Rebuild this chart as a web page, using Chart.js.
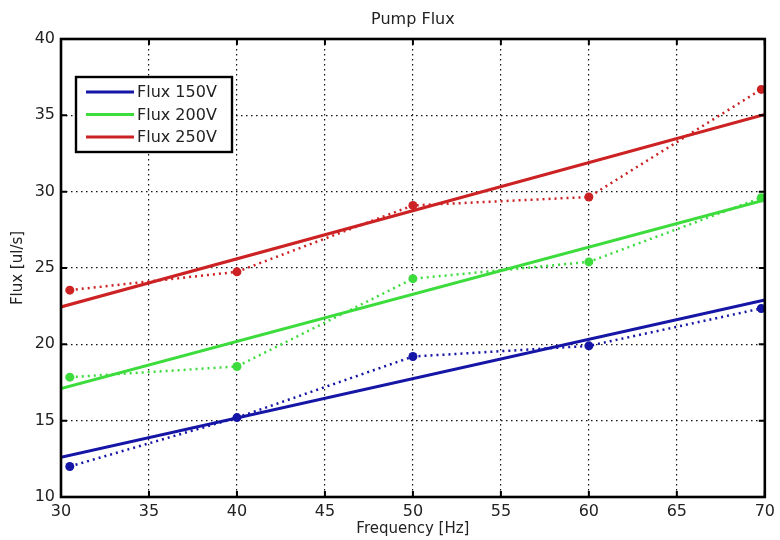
<!DOCTYPE html>
<html><head><meta charset="utf-8">
<script src="https://cdn.jsdelivr.net/npm/chart.js@4"></script>
<style>html,body{margin:0;padding:0;background:#fff;}</style>
</head><body>
<canvas id="c" width="780" height="540"></canvas>
<script>
// ---- data ----
const freqMeasured = [30.5, 40, 50, 60, 69.8];
const flux150 = [12.0, 15.2, 19.2, 19.9, 22.35];
const flux200 = [17.85, 18.55, 24.3, 25.4, 29.6];
const flux250 = [23.55, 24.75, 29.1, 29.65, 36.7];
const fitFreq = [30, 70];
const fit150 = [12.6, 22.9];
const fit200 = [17.1, 29.45];
const fit250 = [22.45, 35.05];
const seriesLabels = ['Flux 150V', 'Flux 200V', 'Flux 250V'];
const xTicks = [30, 35, 40, 45, 50, 55, 60, 65, 70];
const yTicks = [10, 15, 20, 25, 30, 35, 40];

const FONT = "'DejaVu Sans', sans-serif";
const COLORS = ['#1515a6', '#3ddc3d', '#cc2224'];

function pts(xs, ys) { return xs.map((x, i) => ({ x: x, y: ys[i] })); }

const measured = [flux150, flux200, flux250];
const fits = [fit150, fit200, fit250];
const datasets = [];
for (let k = 0; k < 3; k++) {
  datasets.push({
    label: seriesLabels[k],
    inLegend: true,
    data: pts(fitFreq, fits[k]),
    borderColor: COLORS[k],
    backgroundColor: COLORS[k],
    borderWidth: 3,
    pointRadius: 0,
    fill: false,
    tension: 0
  });
}
for (let k = 0; k < 3; k++) {
  datasets.push({
    label: seriesLabels[k] + ' measured',
    inLegend: false,
    data: pts(freqMeasured, measured[k]),
    borderColor: COLORS[k],
    backgroundColor: COLORS[k],
    borderWidth: 2.5,
    borderDash: [2, 4],
    pointRadius: 4.5,
    pointBorderWidth: 0,
    pointBackgroundColor: COLORS[k],
    fill: false,
    tension: 0
  });
}

const framePlugin = {
  id: 'frame',
  afterDatasetsDraw(chart) {
    const { ctx, chartArea: a, scales } = chart;
    ctx.save();
    ctx.strokeStyle = '#000';
    ctx.lineWidth = 2;
    ctx.beginPath();
    xTicks.forEach(v => {
      const px = scales.x.getPixelForValue(v);
      ctx.moveTo(px, a.bottom); ctx.lineTo(px, a.bottom - 6);
      ctx.moveTo(px, a.top); ctx.lineTo(px, a.top + 6);
    });
    yTicks.forEach(v => {
      const py = scales.y.getPixelForValue(v);
      ctx.moveTo(a.left, py); ctx.lineTo(a.left + 6, py);
      ctx.moveTo(a.right, py); ctx.lineTo(a.right - 6, py);
    });
    ctx.stroke();
    ctx.lineWidth = 2.6;
    ctx.strokeRect(a.left, a.top, a.right - a.left, a.bottom - a.top);
    ctx.restore();
  },
  afterDraw(chart) {
    const { ctx } = chart;
    const items = chart.data.datasets.filter(d => d.inLegend);
    const bx = 76, by = 77, bw = 156, bh = 75;
    ctx.save();
    ctx.fillStyle = '#fff';
    ctx.fillRect(bx, by, bw, bh);
    ctx.strokeStyle = '#000';
    ctx.lineWidth = 2.4;
    ctx.strokeRect(bx, by, bw, bh);
    ctx.font = '16px ' + FONT;
    ctx.textBaseline = 'middle';
    ctx.textAlign = 'left';
    items.forEach((d, i) => {
      const y = by + 15 + i * 22.5;
      ctx.strokeStyle = d.borderColor;
      ctx.lineWidth = 3;
      ctx.beginPath(); ctx.moveTo(86, y); ctx.lineTo(134, y); ctx.stroke();
      ctx.fillStyle = '#222';
      ctx.fillText(d.label, 137, y + 1);
    });
    ctx.restore();
  }
};

new Chart(document.getElementById('c'), {
  type: 'line',
  data: { datasets: datasets },
  plugins: [framePlugin],
  options: {
    responsive: false,
    animation: false,
    devicePixelRatio: 1,
    layout: { padding: { left: 0, right: 11, top: 0, bottom: 0 } },
    plugins: {
      legend: { display: false },
      tooltip: { enabled: false },
      title: {
        display: true, text: 'Pump Flux', color: '#222', fullSize: false,
        font: { family: FONT, size: 16, weight: 'normal' },
        padding: { top: 10, bottom: 9.8 }
      }
    },
    scales: {
      x: {
        type: 'linear', min: 30, max: 70,
        afterFit(s) { s.height = 43; },
        afterBuildTicks(s) { s.ticks = xTicks.map(v => ({ value: v })); },
        ticks: { color: '#222', font: { family: FONT, size: 16 }, padding: 5, maxRotation: 0, autoSkip: false },
        grid: { color: '#111', lineWidth: 1.2, drawTicks: false },
        border: { display: false, dash: [1.5, 3.5] },
        title: { display: true, text: 'Frequency [Hz]', color: '#222', font: { family: FONT, size: 15 }, padding: { top: 0, bottom: 2 } }
      },
      y: {
        type: 'linear', min: 10, max: 40,
        afterFit(s) { s.width = 61; },
        afterBuildTicks(s) { s.ticks = yTicks.map(v => ({ value: v })); },
        ticks: { color: '#222', font: { family: FONT, size: 16 }, padding: 6, autoSkip: false },
        grid: { color: '#111', lineWidth: 1.2, drawTicks: false },
        border: { display: false, dash: [1.5, 3.5] },
        title: { display: true, text: 'Flux [ul/s]', color: '#222', font: { family: FONT, size: 15 }, padding: { top: 9, bottom: 0 } }
      }
    }
  }
});
</script>
</body></html>
